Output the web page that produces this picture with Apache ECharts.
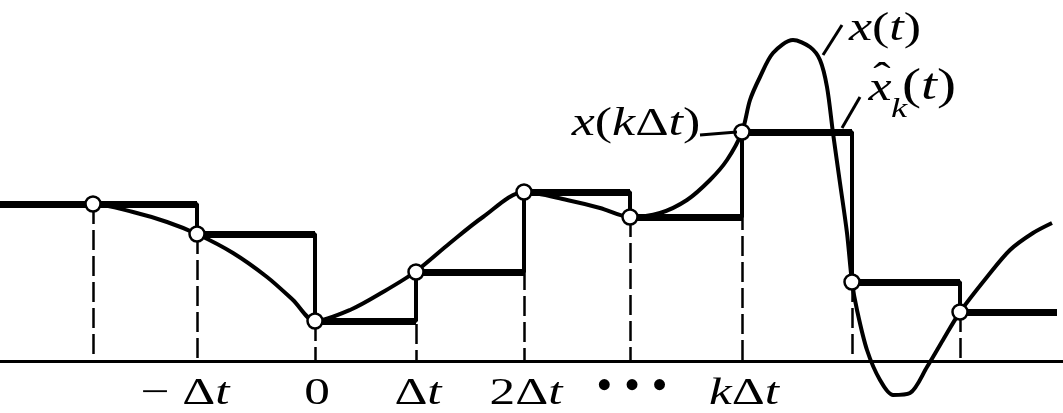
<!DOCTYPE html>
<html><head><meta charset="utf-8">
<script src="https://cdn.jsdelivr.net/npm/echarts@6/dist/echarts.min.js"></script>
<style>html,body{margin:0;padding:0;background:#fff}#c{width:1063px;height:413px}</style>
</head><body><div id="c"></div>
<script>
// sample instants and sampled values x(kΔt) (height above the time axis)
const sampleT = [93, 197, 315, 416, 524, 630, 742, 852, 960];
const sampleV = [157, 127, 40, 89, 169, 144, 229, 79, 49];
// zero-order-hold staircase x̂_k(t): level held from each instant to the next
const stepT = [0, 197, 315, 416, 524, 630, 742, 852, 960, 1057];
const stepV = [157, 127, 40, 89, 169, 144, 229, 79, 49, 49];
// continuous signal x(t)
const curveT = [0, 93, 133, 167, 197, 233, 267, 293, 315, 350, 383, 415, 450, 483, 524, 567, 600, 630, 660, 687, 710, 727, 742, 750, 760, 773, 793, 810, 820, 827, 833, 840, 847, 852, 857, 867, 880, 893, 910, 927, 943, 960, 987, 1010, 1033, 1052];
const curveV = [157, 157, 149, 139, 127, 108, 84, 61, 40, 51, 69, 89, 118, 144, 169, 161, 153, 144, 148, 161, 181, 201, 229, 261, 284, 308, 321, 314, 301, 274, 228, 178, 128, 79, 51, 11, -19, -34, -32, -6, 21, 49, 84, 111, 128, 138];
// time-axis tick labels
const tickT = [197, 315, 416, 524, 630, 742];
const tickLabels = ['− Δt', '0', 'Δt', '2Δt', '• • •', 'kΔt'];

const FONT = 'Liberation Serif';
function st(size, italic) {
  return { fontFamily: FONT, fontSize: size, fontStyle: italic ? 'italic' : 'normal', fontWeight: 'normal', fill: '#000', lineHeight: Math.round(size * 0.75) };
}
function rich(s) { return s.replace(/[a-z]/g, m => '{i|' + m + '}'); }
function txt(x, y, s, size, sx) {
  return {
    type: 'text', x: x, y: y, scaleX: sx == null ? 1.3 : sx, z: 20,
    style: Object.assign(st(size, false), { text: rich(s), rich: { i: st(size, true) }, align: 'center', verticalAlign: 'middle' })
  };
}
function seg(x1, y1, x2, y2) {
  return { type: 'line', z: 20, shape: { x1: x1, y1: y1, x2: x2, y2: y2 }, style: { stroke: '#000', lineWidth: 3 } };
}

const chart = echarts.init(document.getElementById('c'), null, { renderer: 'canvas' });

const curveData = curveT.map((t, i) => [t, curveV[i]]);
const stepData = stepT.map((t, i) => [t, stepV[i]]);
const sampleData = sampleT.map((t, i) => [t, sampleV[i]]);
const dashData = sampleT.map((t, i) => ({ coords: [[t, sampleV[i]], [t, 0]] }));
const holdData = [];
for (let i = 0; i < stepT.length - 1; i++) holdData.push({ coords: [[stepT[i], stepV[i]], [stepT[i + 1], stepV[i]]] });

chart.setOption({
  animation: false,
  backgroundColor: '#fff',
  grid: { left: 0, right: 0, top: 0, bottom: 0, containLabel: false },
  xAxis: {
    type: 'value', min: 0, max: 1063,
    axisLine: { show: true, onZero: true, lineStyle: { color: '#000', width: 3 } },
    axisTick: { show: false }, axisLabel: { show: false }, splitLine: { show: false }
  },
  yAxis: { type: 'value', min: -52, max: 361, show: false, splitLine: { show: false } },
  series: [
    { type: 'lines', coordinateSystem: 'cartesian2d', z: 1, silent: true, data: dashData,
      lineStyle: { color: '#000', width: 2.5, type: [20, 6], opacity: 1 } },
    { type: 'line', step: 'end', z: 2, symbol: 'none', data: stepData, lineStyle: { color: '#000', width: 4 } },
    { type: 'lines', coordinateSystem: 'cartesian2d', z: 3, silent: true, data: holdData,
      lineStyle: { color: '#000', width: 7, opacity: 1 } },
    { type: 'line', z: 4, symbol: 'none', smooth: 0.3, data: curveData, lineStyle: { color: '#000', width: 4 } },
    { type: 'scatter', z: 5, symbol: 'circle', symbolSize: 15, data: sampleData,
      itemStyle: { color: '#fff', borderColor: '#000', borderWidth: 2.5, opacity: 1 } }
  ]
});

const labelV = -33;
const g = [];
tickT.forEach((t, i) => {
  const p = chart.convertToPixel({ gridIndex: 0 }, [t, labelV]);
  const s = tickLabels[i];
  if (s.indexOf('•') >= 0) {
    g.push(txt(p[0] + 2, p[1] - 6, s, 46, 1));
  } else if (s.charAt(0) === '−') {
    g.push(txt(p[0] - 12, p[1], s, 38, 1.35));
  } else {
    g.push(txt(p[0] + 2, p[1], s, 38, 1.35));
  }
});
// annotations
g.push(txt(885, 29, 'x(t)', 40));
g.push(seg(842, 25, 823, 55));
g.push(txt(880, 89, 'x', 40));
g.push(txt(882, 79, 'ˆ', 40));
g.push(txt(899, 110, 'k', 28));
g.push(txt(929, 87, '(t)', 44));
g.push(seg(860, 97, 842, 128));
g.push(txt(636, 124, 'x(kΔt)', 40));
g.push(seg(700, 135, 737, 132));
chart.setOption({ graphic: g });
</script>
</body></html>
